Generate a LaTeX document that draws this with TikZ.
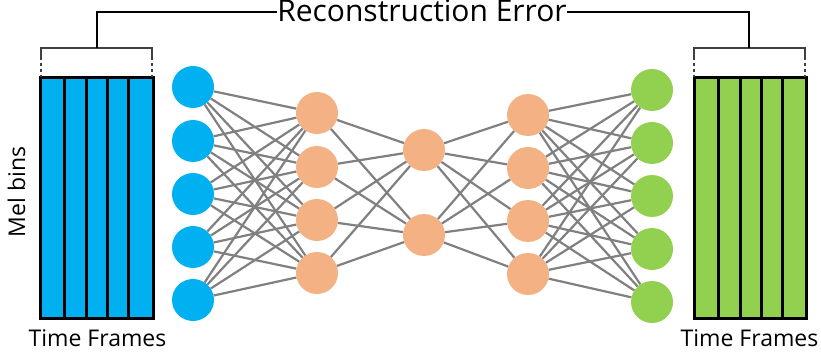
\documentclass[tikz,border=0pt]{standalone}
\usepackage{fontspec}
\setmainfont{Open Sans}
\definecolor{inblue}{RGB}{0,176,240}
\definecolor{outgreen}{RGB}{146,208,80}
\definecolor{hidorange}{RGB}{244,177,131}
\definecolor{edgegray}{RGB}{128,128,128}
\begin{document}
\begin{tikzpicture}[x=1pt,y=-1pt,
  neuron/.style={circle,minimum size=42pt,inner sep=0pt,draw=none},
  inneuron/.style={neuron,fill=inblue},
  hidneuron/.style={neuron,fill=hidorange},
  outneuron/.style={neuron,fill=outgreen},
  conn/.style={draw=edgegray,line width=2.2pt},
  frame/.style={draw=black,line width=3pt},
  bracket/.style={draw=black!75,line width=1.2pt},
  errline/.style={draw=black,line width=2pt},
  lbl/.style={font=\fontsize{23}{26}\selectfont,inner sep=0pt,anchor=base}]
\useasboundingbox (0,0) rectangle (821,358);
% spectrogram boxes
\fill[inblue] (40,78) rectangle (153,318);
\foreach \x in {64,86,107,128} \draw[frame] (\x,78) -- (\x,318);
\draw[frame] (40,78) rectangle (153,318);
\fill[outgreen] (694,78) rectangle (806,318);
\foreach \x in {718,740,761,782} \draw[frame] (\x,78) -- (\x,318);
\draw[frame] (694,78) rectangle (806,318);
% neurons
\foreach \i/\y in {1/87,2/141,3/194,4/247,5/300} \node[inneuron] (a\i) at (193,\y) {};
\foreach \i/\y in {1/113,2/167,3/220,4/273} \node[hidneuron] (b\i) at (317,\y) {};
\foreach \i/\y in {1/150,2/235} \node[hidneuron] (c\i) at (424,\y) {};
\foreach \i/\y in {1/115,2/168,3/221,4/274} \node[hidneuron] (d\i) at (528,\y) {};
\foreach \i/\y in {1/90,2/143,3/196,4/249,5/302} \node[outneuron] (e\i) at (652,\y) {};
% connections
\foreach \i in {1,...,5} \foreach \j in {1,...,4} \draw[conn] (a\i) -- (b\j);
\foreach \i in {1,...,4} \foreach \j in {1,2} \draw[conn] (b\i) -- (c\j);
\foreach \i in {1,2} \foreach \j in {1,...,4} \draw[conn] (c\i) -- (d\j);
\foreach \i in {1,...,4} \foreach \j in {1,...,5} \draw[conn] (d\i) -- (e\j);
% brackets
\draw[bracket] (41,57) -- (41,48) -- (152,48) -- (152,57);
\draw[bracket,dash pattern=on 3pt off 3pt] (41,57) -- (41,77) (152,57) -- (152,77);
\draw[bracket] (694,57) -- (694,48) -- (805,48) -- (805,57);
\draw[bracket,dash pattern=on 3pt off 3pt] (694,57) -- (694,77) (805,57) -- (805,77);
% labels
\node[lbl,font=\fontsize{30}{32}\selectfont] (err) at (422,22) {Reconstruction Error};
\coordinate (lb) at (97,48);
\coordinate (rb) at (749,48);
\draw[errline] (err.west |- 0,12) -| (lb);
\draw[errline] (err.east |- 0,12) -| (rb);
\node[lbl] (tf1) at (97.5,346) {Time Frames};
\node[lbl] (tf2) at (749.5,346) {Time Frames};
\node[lbl,rotate=90] (mel) at (25,192) {Mel bins};
\end{tikzpicture}
\end{document}
